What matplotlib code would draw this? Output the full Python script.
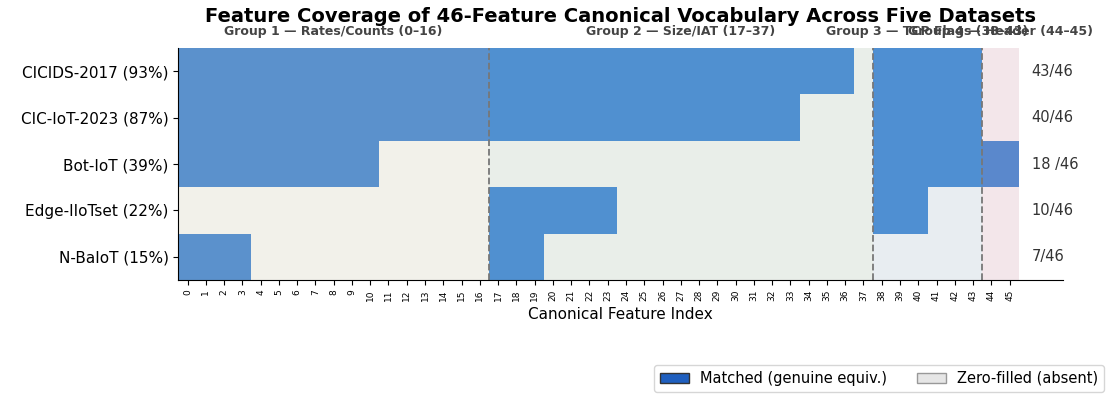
import matplotlib
matplotlib.use("Agg")
import matplotlib.pyplot as plt
import numpy as np
from matplotlib import colors
from matplotlib.patches import Patch

DATASETS = ["CICIDS-2017 (93%)", "CIC-IoT-2023 (87%)", "Bot-IoT (39%)",
            "Edge-IIoTset (22%)", "N-BaIoT (15%)"]
COUNT_LABELS = ["43/46", "40/46", "18 /46", "10/46", "7/46"]
# matched feature index ranges (inclusive) per dataset
MATCHED = [
    [(0, 36), (38, 43)],
    [(0, 33), (38, 43)],
    [(0, 10), (38, 45)],
    [(17, 23), (38, 40)],
    [(0, 3), (17, 19)],
]
GROUPS = [
    ("Group 1 \u2014 Rates/Counts (0\u201316)", 0, 16, "#f2f1ea", "#5b91cc"),
    ("Group 2 \u2014 Size/IAT (17\u201337)", 17, 37, "#e9eee9", "#5090d0"),
    ("Group 3 \u2014 TCP Flags (38\u201343)", 38, 43, "#e8edf1", "#4f8fd2"),
    ("Group 4 \u2014 Header (44\u201345)", 44, 45, "#f3e6ea", "#5a88cc"),
]
N_FEAT = 46

img = np.zeros((len(DATASETS), N_FEAT, 3))
for _, lo, hi, bg, _m in GROUPS:
    img[:, lo:hi + 1] = colors.to_rgb(bg)
for i, ranges in enumerate(MATCHED):
    for lo, hi in ranges:
        for _, glo, ghi, _bg, mc in GROUPS:
            a, b = max(lo, glo), min(hi, ghi)
            if a <= b:
                img[i, a:b + 1] = colors.to_rgb(mc)

fig = plt.figure(figsize=(11.15, 4.01), dpi=100)
ax = fig.add_axes([0.16, 0.302, 0.793, 0.578])
ax.imshow(img, aspect="auto", extent=(-0.5, N_FEAT - 0.5, len(DATASETS) - 0.5, -0.5),
          interpolation="nearest")
ax.set_xlim(-0.5, 47.9)
ax.set_ylim(len(DATASETS) - 0.5, -0.5)
ax.set_yticks(range(len(DATASETS)), labels=DATASETS, fontsize=11)
ax.set_xticks(range(N_FEAT), labels=[str(i) for i in range(N_FEAT)], rotation=90, fontsize=6.5)
ax.set_xlabel("Canonical Feature Index", fontsize=11)
for s in ("top", "right"):
    ax.spines[s].set_visible(False)

for _, lo, hi, _bg, _m in GROUPS[:-1]:
    ax.axvline(hi + 0.5, color="#777777", ls="--", lw=1.3)
for label, lo, hi, _bg, _m in GROUPS:
    ax.text((lo + hi) / 2, -0.72, label, ha="center", va="bottom",
            fontsize=9, fontweight="bold", color="#444444")
for i, txt in enumerate(COUNT_LABELS):
    ax.text(46.2, i, txt, va="center", ha="left", fontsize=10.5, color="#333333")

ax.set_title("Feature Coverage of 46-Feature Canonical Vocabulary Across Five Datasets",
             fontsize=14, fontweight="bold", pad=19)

handles = [Patch(facecolor="#1f5fbf", edgecolor="#333333", label="Matched (genuine equiv.)"),
           Patch(facecolor="#e6e6e6", edgecolor="#999999", label="Zero-filled (absent)")]
fig.legend(handles=handles, loc="lower right", bbox_to_anchor=(0.997, 0.005), ncol=2,
           fontsize=10.5, frameon=True)

fig.savefig("out.png", dpi=100)
